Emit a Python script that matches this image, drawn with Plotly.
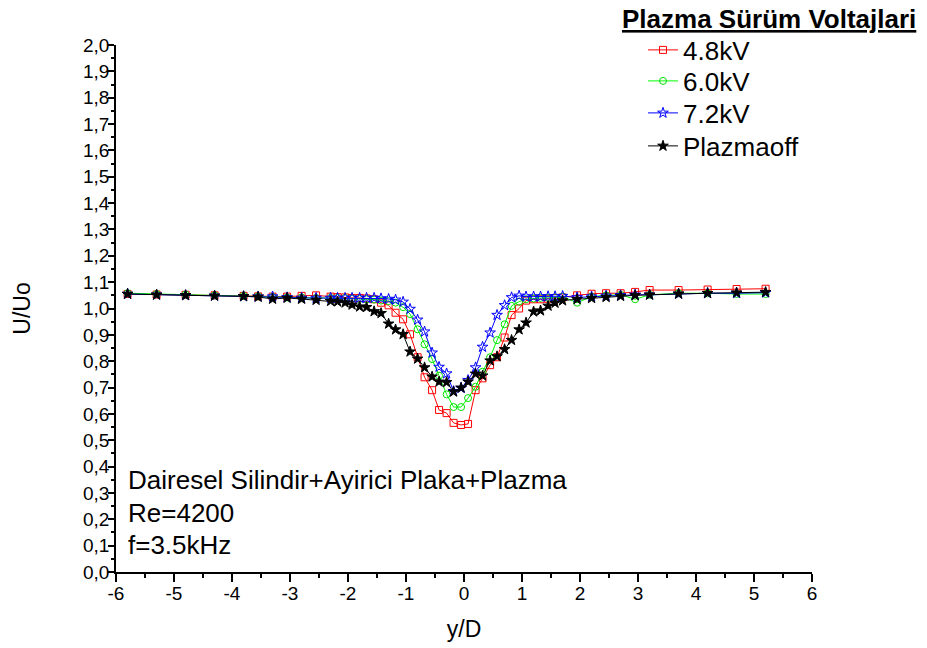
import plotly.graph_objects as go

# ---------------- data ----------------
y_over_D = [-5.8, -5.3, -4.8, -4.3, -3.8, -3.55, -3.3, -3.05, -2.8, -2.55, -2.3,
            -2.18, -2.05, -1.93, -1.8, -1.68, -1.55, -1.43, -1.3, -1.18, -1.05,
            -0.93, -0.8, -0.68, -0.55, -0.43, -0.3, -0.18, -0.05,
            0.07, 0.2, 0.32, 0.45, 0.57, 0.7, 0.82, 0.95,
            1.07, 1.2, 1.32, 1.45, 1.57, 1.7,
            1.95, 2.2, 2.45, 2.7, 2.95, 3.2, 3.7, 4.2, 4.7, 5.2]

u_48kV = [1.055, 1.053, 1.052, 1.05, 1.048, 1.046, 1.045, 1.045, 1.048, 1.05, 1.045,
          1.043, 1.042, 1.04, 1.04, 1.038, 1.035, 1.022, 1.012, 0.984, 0.959,
          0.902, 0.815, 0.739, 0.69, 0.615, 0.603, 0.566, 0.558,
          0.562, 0.69, 0.735, 0.785, 0.815, 0.89, 0.975, 1.0,
          1.03, 1.035, 1.035, 1.037, 1.04, 1.042,
          1.05, 1.056, 1.058, 1.058, 1.063, 1.07, 1.07, 1.072, 1.074, 1.075]

u_60kV = [1.058, 1.055, 1.053, 1.05, 1.048, 1.046, 1.044, 1.042, 1.042, 1.04, 1.04,
          1.04, 1.04, 1.038, 1.036, 1.035, 1.034, 1.03, 1.028, 1.022, 1.005,
          0.979, 0.921, 0.864, 0.808, 0.745, 0.674, 0.626, 0.626,
          0.66, 0.703, 0.76, 0.815, 0.88, 0.94, 1.01, 1.026,
          1.035, 1.038, 1.04, 1.04, 1.042, 1.045,
          1.022, 1.045, 1.05, 1.052, 1.035, 1.052, 1.058, 1.058, 1.055, 1.055]

u_72kV = [1.055, 1.052, 1.05, 1.048, 1.046, 1.045, 1.045, 1.042, 1.04, 1.04, 1.04,
          1.04, 1.04, 1.04, 1.04, 1.04, 1.04, 1.038, 1.036, 1.033, 1.025,
          0.998, 0.957, 0.912, 0.832, 0.778, 0.753, 0.686, 0.698,
          0.728, 0.776, 0.854, 0.908, 0.975, 1.012, 1.042, 1.048,
          1.045, 1.045, 1.045, 1.046, 1.046, 1.047,
          1.042, 1.045, 1.048, 1.05, 1.052, 1.052, 1.055, 1.058, 1.058, 1.06]

u_off = [1.055, 1.052, 1.05, 1.048, 1.046, 1.044, 1.036, 1.04, 1.036, 1.032, 1.028,
         1.026, 1.022, 1.014, 1.007, 1.005, 0.989, 0.982, 0.942, 0.92, 0.902,
         0.836, 0.809, 0.776, 0.741, 0.722, 0.72, 0.684, 0.699,
         0.722, 0.752, 0.745, 0.802, 0.818, 0.845, 0.88, 0.92,
         0.946, 0.988, 0.992, 1.01, 1.021, 1.03,
         1.035, 1.039, 1.043, 1.047, 1.05, 1.052, 1.056, 1.058, 1.06, 1.062]

series_names = ["4.8kV", "6.0kV", "7.2kV", "Plazmaoff"]

x_tick_vals = [-6, -5, -4, -3, -2, -1, 0, 1, 2, 3, 4, 5, 6]
x_tick_labels = ["-6", "-5", "-4", "-3", "-2", "-1", "0", "1", "2", "3", "4", "5", "6"]
y_tick_vals = [0.0, 0.1, 0.2, 0.3, 0.4, 0.5, 0.6, 0.7, 0.8, 0.9, 1.0,
               1.1, 1.2, 1.3, 1.4, 1.5, 1.6, 1.7, 1.8, 1.9, 2.0]
y_tick_labels = ["0,0", "0,1", "0,2", "0,3", "0,4", "0,5", "0,6", "0,7", "0,8", "0,9", "1,0",
                 "1,1", "1,2", "1,3", "1,4", "1,5", "1,6", "1,7", "1,8", "1,9", "2,0"]

legend_title = "Plazma Sürüm Voltajlari"
info_lines = ["Dairesel Silindir+Ayirici Plaka+Plazma", "Re=4200", "f=3.5kHz"]

# ---------------- figure ----------------
FONT = "Liberation Sans, Arial, sans-serif"
W, H = 927, 648
L, T = 116, 45
pw, ph = 696, 527
R, B = W - L - pw, H - T - ph


def px_x(sx):
    return (sx - L) / pw


def px_y(sy):
    return (H - B - sy) / ph


styles = [
    dict(color="#FF0000", symbol="square-open", size=7),
    dict(color="#00E000", symbol="circle-open", size=7),
    dict(color="#0000FF", symbol="star-open", size=8),
    dict(color="#000000", symbol="star", size=8),
]
line_colors = ["#FF0000", "#00FF00", "#0000FF", "#000000"]
series = [u_48kV, u_60kV, u_72kV, u_off]
legend_ids = ["legend", "legend2", "legend3", "legend4"]
legend_rows = [50, 81, 113, 146]

fig = go.Figure()
for name, yv, st, lc, lid in zip(series_names, series, styles, line_colors, legend_ids):
    fig.add_trace(go.Scatter(
        x=y_over_D, y=yv, name=name, mode="lines+markers", legend=lid,
        line=dict(color=lc, width=1),
        marker=dict(color=st["color"], symbol=st["symbol"], size=st["size"],
                    line=dict(color=st["color"], width=1)),
    ))

axis_common = dict(
    showline=True, linecolor="black", linewidth=1.5, mirror=False,
    ticks="outside", tickwidth=1.5, tickcolor="black",
    showgrid=False, zeroline=False,
    tickfont=dict(family=FONT, size=19, color="black"),
)

fig.update_xaxes(range=[-6, 6], tickvals=x_tick_vals, ticktext=x_tick_labels, ticklen=8,
                 ticklabelstandoff=-5,
                 minor=dict(ticks="outside", dtick=0.5, tick0=0, ticklen=4, tickwidth=1.5,
                            tickcolor="black", showgrid=False),
                 title=dict(text="y/D", font=dict(family=FONT, size=23, color="black"), standoff=18),
                 **axis_common)
fig.update_yaxes(range=[0, 2.0], tickvals=y_tick_vals, ticktext=y_tick_labels, ticklen=6,
                 ticklabelstandoff=-5,
                 minor=dict(ticks="outside", dtick=0.05, tick0=0, ticklen=3, tickwidth=1.5,
                            tickcolor="black", showgrid=False),
                 title=dict(text="U/Uo", font=dict(family=FONT, size=23, color="black"), standoff=46),
                 **axis_common)

annotations = [
    dict(text="<b><u>" + legend_title + "</u></b>", xref="paper", yref="paper",
         x=px_x(918), y=px_y(19), xanchor="right", yanchor="middle", showarrow=False,
         font=dict(family=FONT, size=26, color="black")),
]
for line_text, sy in zip(info_lines, [480, 513, 545]):
    annotations.append(dict(text=line_text, xref="paper", yref="paper",
                            x=px_x(126), y=px_y(sy), xanchor="left", yanchor="middle",
                            showarrow=False, font=dict(family=FONT, size=26, color="black")))

legend_layouts = {}
for lid, sy in zip(legend_ids, legend_rows):
    legend_layouts[lid] = dict(x=px_x(643), y=px_y(sy), xanchor="left", yanchor="middle",
                               font=dict(family=FONT, size=26, color="black"),
                               bgcolor="rgba(0,0,0,0)", borderwidth=0)

fig.update_layout(
    width=W, height=H,
    margin=dict(l=L, r=R, t=T, b=B, autoexpand=False),
    paper_bgcolor="white", plot_bgcolor="white",
    font=dict(family=FONT, color="black"),
    showlegend=True,
    annotations=annotations,
    **legend_layouts,
)

fig.write_html("out.html", config={"displayModeBar": False},
               post_script="document.body.style.margin='0px';")
